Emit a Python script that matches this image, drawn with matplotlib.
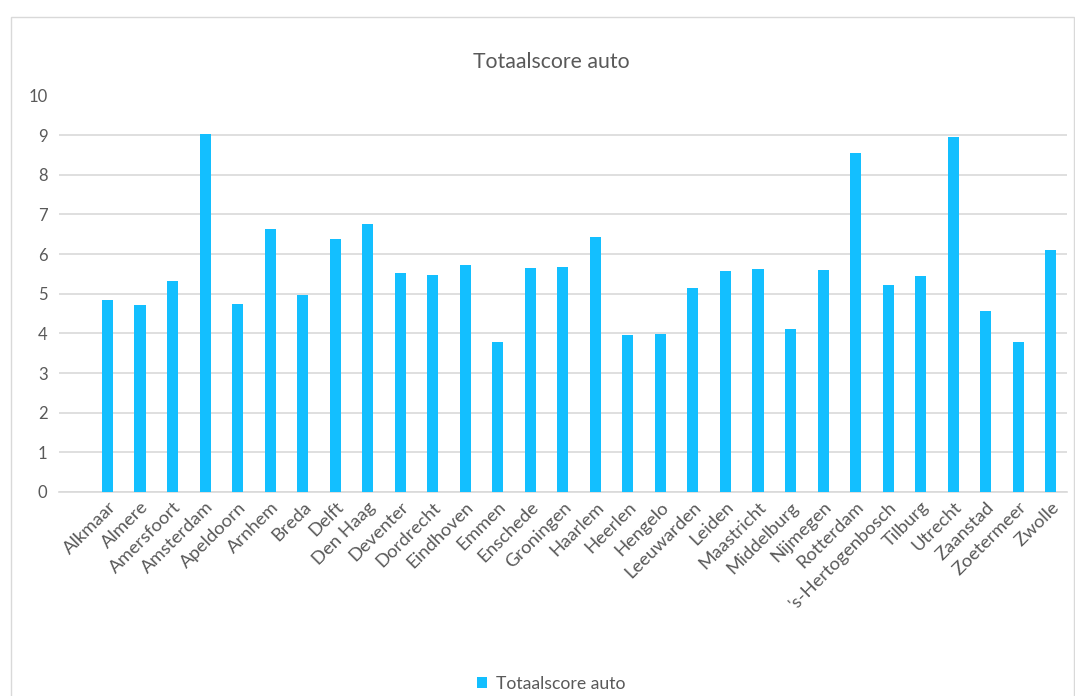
import matplotlib
matplotlib.use("Agg")
import matplotlib.pyplot as plt
from matplotlib.patches import Rectangle

# ----------------------------------------
# data
# ----------------------------------------
steden = ['Alkmaar', 'Almere', 'Amersfoort', 'Amsterdam', 'Apeldoorn', 'Arnhem',
          'Breda', 'Delft', 'Den Haag', 'Deventer', 'Dordrecht', 'Eindhoven',
          'Emmen', 'Enschede', 'Groningen', 'Haarlem', 'Heerlen', 'Hengelo',
          'Leeuwarden', 'Leiden', 'Maastricht', 'Middelburg', 'Nijmegen',
          'Rotterdam', "'s-Hertogenbosch", 'Tilburg', 'Utrecht', 'Zaanstad',
          'Zoetermeer', 'Zwolle']
score = [4.85, 4.72, 5.33, 9.04, 4.75, 6.64,
         4.97, 6.39, 6.77, 5.53, 5.48, 5.73,
         3.79, 5.66, 5.68, 6.44, 3.96, 3.99,
         5.15, 5.58, 5.63, 4.12, 5.61,
         8.54, 5.23, 5.45, 8.96, 4.57,
         3.79, 6.11]
yticks = list(range(0, 11))

# ----------------------------------------
# style
# ----------------------------------------
plt.rcParams['font.family'] = ['Lato', 'DejaVu Sans']
tekst = '#595959'
grid = '#d9d9d9'
blauw = '#13bfff'

fig = plt.figure(figsize=(10.75, 6.96), dpi=100)
ax = fig.add_axes([58.7/1075, (696-492)/696, (1067-58.7)/1075, (492-95.5)/696])

x = range(len(steden))
ax.bar(x, score, width=0.34, color=blauw, zorder=3, label='Totaalscore auto')

# first slot of the category axis is empty in the original
ax.set_ylim(0, 10)
ax.set_xlim(-1.5, len(steden) - 0.5)
ax.set_yticks(yticks)
ax.set_yticklabels([str(t) for t in yticks], fontsize=12, color=tekst)
ax.set_xticks(list(x))
ax.set_xticklabels(steden, rotation=45, ha='right', rotation_mode='anchor',
                   fontsize=13.3, color=tekst)
ax.tick_params(axis='both', length=0)
ax.tick_params(axis='y', pad=8)
ax.tick_params(axis='x', pad=5)

ax.grid(axis='y', color=grid, linewidth=1.2, zorder=0)
for s in ['top', 'right', 'left']:
    ax.spines[s].set_visible(False)
ax.spines['bottom'].set_color(grid)
ax.spines['bottom'].set_linewidth(1.2)

fig.text(551/1075, 1 - 62/696, 'Totaalscore auto', ha='center', va='center',
         fontsize=15.3, color=tekst)

# chart border
fig.patches.append(Rectangle((11/1075, -0.01), 1063/1075, 1 - 16.5/696 + 0.01,
                             transform=fig.transFigure, fill=False,
                             edgecolor=grid, linewidth=1))

fig.legend(loc='center', bbox_to_anchor=(551/1075, 1 - 684/696), frameon=False,
           fontsize=12.7, labelcolor=tekst, handlelength=0.6, handleheight=0.6,
           handletextpad=0.5)

fig.savefig('out.png', dpi=100)
